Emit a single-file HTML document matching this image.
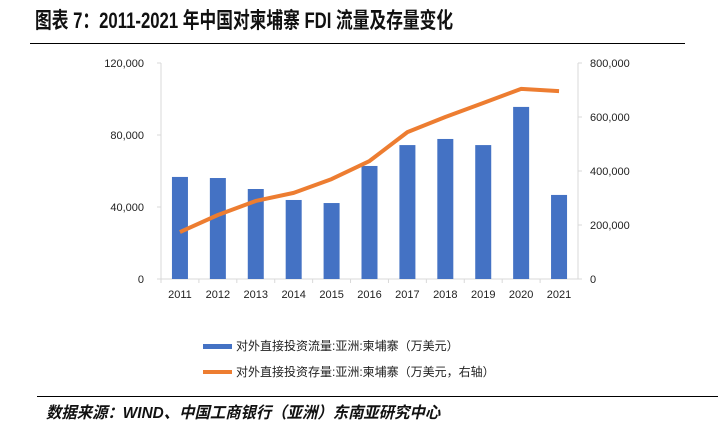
<!DOCTYPE html>
<html><head><meta charset="utf-8"><style>
body{margin:0;width:718px;height:423px;background:#fff;overflow:hidden;font-family:"Liberation Sans","Noto Sans CJK SC",sans-serif}
</style></head><body>
<div style="position:absolute;left:35px;top:3px;font-size:22px;font-weight:bold;color:#111;font-family:'Liberation Sans','Noto Sans CJK SC',sans-serif;white-space:nowrap;transform:scaleX(0.76);transform-origin:left top">图表 7：2011-2021 年中国对柬埔寨 FDI 流量及存量变化</div>
<div style="position:absolute;left:30px;top:43px;width:655px;height:1px;background:#000"></div>
<svg id="chart" width="718" height="423" style="position:absolute;left:0;top:0"></svg>
<div style="position:absolute;left:37px;top:396px;width:681px;height:1px;background:#000"></div>
<div style="position:absolute;left:46px;top:399px;font-size:16px;font-weight:bold;font-style:italic;color:#111;white-space:nowrap;transform:scaleX(0.96);transform-origin:left top">数据来源：WIND、中国工商银行（亚洲）东南亚研究中心</div>
<script>
const categories=["2011","2012","2013","2014","2015","2016","2017","2018","2019","2020","2021"];
const flowValues=[56700,56100,50000,43900,42200,62800,74400,77800,74400,95600,46700];
const stockValues=[174000,237000,289000,319000,370000,437000,544000,600000,652000,704000,696000];
const leftTicks=[0,40000,80000,120000];
const rightTicks=[0,200000,400000,600000,800000];
const svg=document.getElementById('chart');
const NS='http://www.w3.org/2000/svg';
const X0=161,X1=578,Y0=279,Y1=63;
const band=(X1-X0)/categories.length;
const xC=i=>X0+band*(i+0.5);
const yL=v=>Y0-(v/120000)*(Y0-Y1);
const yR=v=>Y0-(v/800000)*(Y0-Y1);
function mk(t,a){const e=document.createElementNS(NS,t);for(const k in a)e.setAttribute(k,a[k]);svg.appendChild(e);return e;}
const fmt=v=>v.toLocaleString('en-US');
let e;
e=mk('line',{x1:X0,y1:Y1,x2:X0,y2:Y0,stroke:'#d9d9d9'});

e=mk('line',{x1:X1,y1:Y1,x2:X1,y2:Y0,stroke:'#d9d9d9'});

e=mk('line',{x1:X0,y1:Y0,x2:X1,y2:Y0,stroke:'#d9d9d9'});

leftTicks.forEach(v=>{
 mk('line',{x1:X0-4,y1:yL(v),x2:X0,y2:yL(v),stroke:'#d9d9d9'});
 e=mk('text',{x:X0-17,y:yL(v)+4,'text-anchor':'end','font-size':11,fill:'#222'});e.textContent=fmt(v);
 
});
rightTicks.forEach(v=>{
 mk('line',{x1:X1,y1:yR(v),x2:X1+4,y2:yR(v),stroke:'#d9d9d9'});
 e=mk('text',{x:X1+12,y:yR(v)+4,'text-anchor':'start','font-size':11,fill:'#222'});e.textContent=fmt(v);
 
});
categories.forEach((c,i)=>{
 mk('line',{x1:X0+band*i,y1:Y0,x2:X0+band*i,y2:Y0+4,stroke:'#d9d9d9'});
 e=mk('rect',{x:xC(i)-8,y:yL(flowValues[i]),width:16,height:Y0-yL(flowValues[i]),fill:'#4472c4'});
 
 e=mk('text',{x:xC(i),y:Y0+19,'text-anchor':'middle','font-size':11,fill:'#222'});e.textContent=c;
 
});
e=mk('polyline',{points:stockValues.map((v,i)=>xC(i)+','+yR(v)).join(' '),fill:'none',stroke:'#ed7d31','stroke-width':4,'stroke-linejoin':'round'});

e=mk('rect',{x:203,y:344,width:29,height:5,fill:'#4472c4'});

e=mk('text',{x:236,y:350,'font-size':12,fill:'#222'});e.textContent='对外直接投资流量:亚洲:柬埔寨（万美元）';

e=mk('line',{x1:203,y1:372,x2:232,y2:372,stroke:'#ed7d31','stroke-width':4});

e=mk('text',{x:236,y:376,'font-size':12,fill:'#222'});e.textContent='对外直接投资存量:亚洲:柬埔寨（万美元，右轴）';

</script>
</body></html>
